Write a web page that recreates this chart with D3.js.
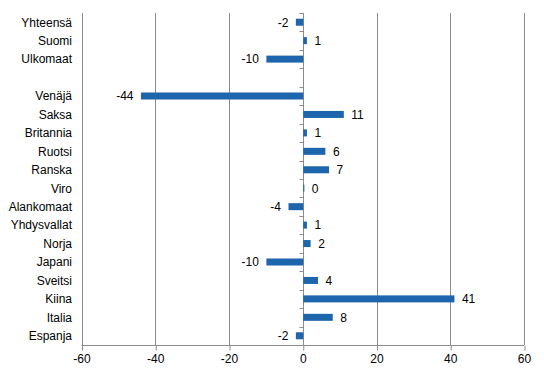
<!DOCTYPE html>
<html><head><meta charset="utf-8">
<script src="https://cdn.jsdelivr.net/npm/d3@7"></script>
<style>body{margin:0;background:#fff}svg{display:block}text{font-family:Arial,"Liberation Sans",sans-serif;font-size:12px;fill:#000}</style>
</head><body><svg id="c" width="544" height="374"></svg>
<script>
const categories = ["Yhteensä","Suomi","Ulkomaat","","Venäjä","Saksa","Britannia","Ruotsi","Ranska","Viro","Alankomaat","Yhdysvallat","Norja","Japani","Sveitsi","Kiina","Italia","Espanja"];
const values = [-2,1,-10,null,-44,11,1,6,7,0.3,-4,1,2,-10,4,41,8,-2];
const xTicks = [-60,-40,-20,0,20,40,60];

const fmt = v => String(Math.round(v));
const svg = d3.select("#c");
const x = d3.scaleLinear().domain([-60,60]).range([81.5,524]);
const y = d3.scaleBand().domain(categories.map((c,i)=>i)).range([13,345]);
const grid = "#8c8c8c";

svg.append("g").selectAll("line").data(xTicks).join("line")
  .attr("x1",d=>Math.round(x(d))+0.5).attr("x2",d=>Math.round(x(d))+0.5)
  .attr("y1",13).attr("y2",345).attr("stroke",grid).attr("stroke-width",1);

const xAxis = d3.axisBottom(x).tickValues(xTicks).tickSize(5).tickPadding(4).tickFormat(fmt);
const ga = svg.append("g").attr("transform","translate(0,345.5)").call(xAxis);
ga.select(".domain").attr("stroke",grid).attr("d","M81.5,0H524");
ga.selectAll(".tick line").attr("stroke",grid).attr("transform","translate(0.5,0)");
ga.selectAll(".tick text").attr("font-size",12).attr("font-family","Arial, Liberation Sans, sans-serif").attr("fill","#000");

const bounds = d3.range(categories.length+1).map(i=>13 + i*y.step());
svg.append("g").selectAll("line").data(bounds).join("line")
  .attr("x1",Math.round(x(0))+0.5-4).attr("x2",Math.round(x(0))+0.5)
  .attr("y1",d=>Math.round(d)+0.5).attr("y2",d=>Math.round(d)+0.5).attr("stroke",grid);

const rows = categories.map((c,i)=>({c,i,v:values[i]}));
const bh = 7;
svg.append("g").selectAll("rect").data(rows.filter(d=>d.v!==null)).join("rect")
  .attr("x",d=>Math.min(x(0),x(d.v))+0.5).attr("width",d=>Math.max(1,Math.abs(x(d.v)-x(0))))
  .attr("y",d=>y(d.i)+y.bandwidth()/2-bh/2).attr("height",bh).attr("fill","#1d65ad");

svg.append("g").selectAll("text").data(rows.filter(d=>d.v!==null)).join("text")
  .attr("x",d=>d.v<0 ? x(d.v)-7 : x(d.v)+8)
  .attr("y",d=>y(d.i)+y.bandwidth()/2)
  .attr("dy","0.36em")
  .attr("text-anchor",d=>d.v<0?"end":"start")
  .text(d=>fmt(d.v));

svg.append("g").selectAll("text").data(rows).join("text")
  .attr("x",72).attr("y",d=>y(d.i)+y.bandwidth()/2).attr("dy","0.36em")
  .attr("text-anchor","end").text(d=>d.c);
</script></body></html>
